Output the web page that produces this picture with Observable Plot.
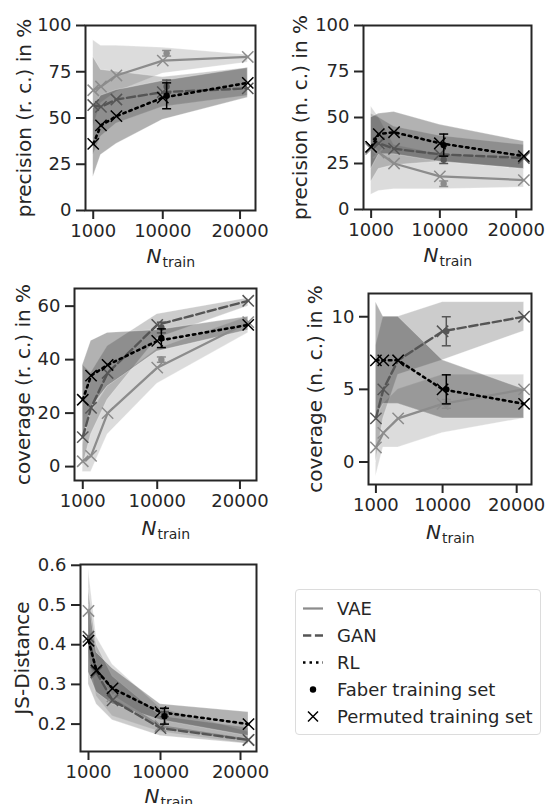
<!DOCTYPE html>
<html><head><meta charset="utf-8">
<script src="https://cdn.jsdelivr.net/npm/d3@7"></script>
<script src="https://cdn.jsdelivr.net/npm/@observablehq/plot@0.6"></script>
<style>
body{margin:0;background:#fff;}
#wrap{position:relative;width:547px;height:804px;overflow:hidden;font-family:"DejaVu Sans";color:#262626;}
#wrap svg.plotsvg{position:absolute;left:0;top:0;}
#legend{position:absolute;left:295px;top:589px;width:244px;height:144px;border:1px solid #dcdcdc;border-radius:4px;background:#fff;font-size:18px;}
.lrow{position:absolute;left:0;height:27px;width:244px;}
.lrow svg{position:absolute;left:0;top:0;}
.lrow span{position:absolute;left:41px;top:3px;line-height:21px;white-space:nowrap;}
</style></head><body><div id="wrap"></div><script>
// ---------- data ----------
const X_TRAIN = [1000, 2000, 4000, 10000, 21000];
const X_FABER = 10500;
const MODELS = ["VAE", "GAN", "RL"];
const COLORS = ["#8c8c8c", "#555555", "#000000"];
const DASHES = [null, "8.3,3.6", "2.5,4"];
const X_TICKS = [1000, 10000, 20000];

// precision (r. c.) in %   rows: VAE, GAN, RL
const precRC_mean = [[65, 67, 73, 81, 83], [57, 56, 60, 64, 66], [36, 46, 51, 61, 69]];
const precRC_lo   = [[45, 58, 64, 74, 80], [30, 40, 47, 56, 62], [18, 30, 36, 49, 61]];
const precRC_hi   = [[92, 89, 89, 88, 84], [83, 76, 75, 72, 77], [55, 62, 65, 70, 77]];
const precRC_faber = [[85, 1.5], [67, 3.5], [62, 7]];
const precRC_ticks = [0, 25, 50, 75, 100];

// precision (n. c.) in %
const precNC_mean = [[33, 31, 25, 18, 16], [34, 36, 33, 30, 28], [34, 41, 42, 36, 29]];
const precNC_lo   = [[8, 10, 11, 11, 12], [15, 22, 24, 26, 22], [22, 30, 30, 26, 22]];
const precNC_hi   = [[56, 50, 35, 30, 27], [52, 50, 45, 40, 35], [50, 52, 53, 46, 37]];
const precNC_faber = [[14, 1.5], [27, 2], [35, 6]];
const precNC_ticks = [0, 25, 50, 75, 100];

// coverage (r. c.) in %
const covRC_mean = [[2, 4, 20, 37, 54], [11, 22, 35, 53, 62], [25, 34, 38, 47, 53]];
const covRC_lo   = [[-2, -2, 12, 31, 50], [0, 12, 25, 48, 60], [10, 22, 30, 43, 51]];
const covRC_hi   = [[8, 20, 30, 44, 56], [38, 35, 45, 57, 63], [38, 47, 50, 51, 56]];
const covRC_faber = [[40, 1], [52, 2], [48, 3.5]];
const covRC_ticks = [0, 20, 40, 60];

// coverage (n. c.) in %
const covNC_mean = [[1, 2, 3, 4, 5], [3, 5, 7, 9, 10], [7, 7, 7, 5, 4]];
const covNC_lo   = [[-1, 1, 1, 2, 3], [0, 3, 6, 7, 9], [3, 4, 4, 3, 3]];
const covNC_hi   = [[3, 4, 5, 6, 6], [8, 10, 10, 11, 11], [11, 10, 10, 7, 5]];
const covNC_faber = [[4, 0.3], [9, 1], [5, 1]];
const covNC_ticks = [0, 5, 10];

// JS-Distance
const js_mean = [[0.485, 0.33, 0.27, 0.195, 0.16], [0.42, 0.33, 0.26, 0.19, 0.16], [0.41, 0.335, 0.29, 0.23, 0.20]];
const js_lo   = [[0.38, 0.27, 0.22, 0.18, 0.15], [0.30, 0.25, 0.21, 0.17, 0.15], [0.33, 0.28, 0.25, 0.21, 0.17]];
const js_hi   = [[0.59, 0.42, 0.35, 0.24, 0.18], [0.54, 0.40, 0.32, 0.22, 0.19], [0.50, 0.38, 0.34, 0.25, 0.23]];
const js_faber = [[0.23, 0.005], [0.225, 0.006], [0.22, 0.02]];
const js_ticks = [0.2, 0.3, 0.4, 0.5, 0.6];

// ---------- drawing ----------
const W = 547, H = 804, INK = "#262626";
const capSymbol = {draw(ctx) { ctx.moveTo(-4.5, 0); ctx.lineTo(4.5, 0); }};
const LINE_W = [2.25, 2.4, 2.6];

function makePanel(c) {
  const [L, T, R, B] = c.frame;
  const marks = [];
  MODELS.forEach((m, i) => {
    const rows = X_TRAIN.map((x, j) => ({x, lo: c.lo[i][j], hi: c.hi[i][j]}));
    marks.push(Plot.areaY(rows, {x: "x", y1: "lo", y2: "hi", fill: COLORS[i], fillOpacity: 0.3, stroke: "#ffffff", strokeOpacity: 0.35, strokeWidth: 0.8}));
  });
  MODELS.forEach((m, i) => {
    const rows = X_TRAIN.map((x, j) => ({x, y: c.mean[i][j]}));
    const opts = {x: "x", y: "y", stroke: COLORS[i], strokeWidth: LINE_W[i]};
    if (DASHES[i]) opts.strokeDasharray = DASHES[i];
    marks.push(Plot.line(rows, opts));
    marks.push(Plot.dot(rows, {x: "x", y: "y", symbol: "times", r: 5.2, stroke: COLORS[i], strokeWidth: 1.5}));
  });
  MODELS.forEach((m, i) => {
    const [mu, sd] = c.faber[i];
    const f = [{x: X_FABER, y: mu, y1: mu - sd, y2: mu + sd}];
    marks.push(Plot.ruleX(f, {x: "x", y1: "y1", y2: "y2", stroke: COLORS[i], strokeWidth: 1.5}));
    marks.push(Plot.dot(f, {x: "x", y: "y1", symbol: capSymbol, stroke: COLORS[i], strokeWidth: 1.5, fill: "none"}));
    marks.push(Plot.dot(f, {x: "x", y: "y2", symbol: capSymbol, stroke: COLORS[i], strokeWidth: 1.5, fill: "none"}));
    marks.push(Plot.dot(f, {x: "x", y: "y", r: 3.2, fill: COLORS[i], stroke: "none"}));
  });
  marks.push(Plot.frame({stroke: INK, strokeWidth: 2}));
  marks.push(Plot.axisX({ticks: X_TICKS, tickFormat: d => String(d), tickSize: 9, tickPadding: 5, fontSize: 18, strokeWidth: 2, stroke: INK, fill: INK, label: null}));
  marks.push(Plot.axisY({ticks: c.yticks, tickFormat: c.yfmt, tickSize: 9, tickPadding: 5, fontSize: 18, strokeWidth: 2, stroke: INK, fill: INK, label: null}));
  marks.push(Plot.text([c.ylabel], {frameAnchor: "left", text: d => d, rotate: -90, dx: c.ylabelDx, fontSize: 20, fill: INK, lineAnchor: "middle", textAnchor: "middle"}));
  marks.push(Plot.text(["N"], {frameAnchor: "bottom", text: d => d, fontStyle: "italic", fontSize: 20, fill: INK, textAnchor: "end", lineAnchor: "top", dx: -9, dy: c.nDy}));
  marks.push(Plot.text(["train"], {frameAnchor: "bottom", text: d => d, fontSize: 14, fill: INK, textAnchor: "start", lineAnchor: "top", dx: -8, dy: c.nDy + 8.5}));
  const svg = Plot.plot({
    width: W, height: H,
    marginLeft: L, marginTop: T, marginRight: W - R, marginBottom: H - B,
    style: {background: "transparent", fontFamily: "DejaVu Sans", color: INK, overflow: "visible"},
    x: {domain: [0, 22000]},
    y: {domain: c.ydomain},
    marks
  });
  svg.classList.add("plotsvg");
  return svg;
}

const wrap = document.getElementById("wrap");
const fmtInt = d => String(d);
wrap.appendChild(makePanel({frame: [85, 25, 255, 210], mean: precRC_mean, lo: precRC_lo, hi: precRC_hi, faber: precRC_faber,
  ydomain: [0, 100], yticks: precRC_ticks, yfmt: fmtInt, ylabel: "precision (r. c.) in %", ylabelDx: -61, nDy: 38}));
wrap.appendChild(makePanel({frame: [363, 25, 531, 209], mean: precNC_mean, lo: precNC_lo, hi: precNC_hi, faber: precNC_faber,
  ydomain: [0, 100], yticks: precNC_ticks, yfmt: fmtInt, ylabel: "precision (n. c.) in %", ylabelDx: -63, nDy: 38}));
wrap.appendChild(makePanel({frame: [74, 288, 256, 480], mean: covRC_mean, lo: covRC_lo, hi: covRC_hi, faber: covRC_faber,
  ydomain: [-5.2, 66.6], yticks: covRC_ticks, yfmt: fmtInt, ylabel: "coverage (r. c.) in %", ylabelDx: -51, nDy: 40}));
wrap.appendChild(makePanel({frame: [368, 293, 531, 484], mean: covNC_mean, lo: covNC_lo, hi: covNC_hi, faber: covNC_faber,
  ydomain: [-1.55, 11.6], yticks: covNC_ticks, yfmt: fmtInt, ylabel: "coverage (n. c.) in %", ylabelDx: -53, nDy: 40}));
wrap.appendChild(makePanel({frame: [80, 564, 256, 751], mean: js_mean, lo: js_lo, hi: js_hi, faber: js_faber,
  ydomain: [0.131, 0.602], yticks: js_ticks, yfmt: d3.format(".1f"), ylabel: "JS-Distance", ylabelDx: -58, nDy: 37}));

// ---------- legend ----------
const legendItems = [
  {label: "VAE", kind: "line", color: COLORS[0], dash: null, w: LINE_W[0]},
  {label: "GAN", kind: "line", color: COLORS[1], dash: DASHES[1], w: LINE_W[1]},
  {label: "RL", kind: "line", color: COLORS[2], dash: DASHES[2], w: LINE_W[2]},
  {label: "Faber training set", kind: "dot"},
  {label: "Permuted training set", kind: "times"}
];
const legend = document.createElement("div");
legend.id = "legend";
legendItems.forEach((it, k) => {
  const row = document.createElement("div");
  row.className = "lrow";
  row.style.top = (5 + 27 * k) + "px";
  let g;
  if (it.kind === "line") g = `<line x1="7" x2="27" y1="13.5" y2="13.5" stroke="${it.color}" stroke-width="${it.w}"${it.dash ? ` stroke-dasharray="${it.dash}"` : ""}/>`;
  else if (it.kind === "dot") g = `<circle cx="17" cy="13.5" r="3.2" fill="#000"/>`;
  else g = `<path d="M12,8.5L22,18.5M22,8.5L12,18.5" stroke="#000" stroke-width="1.5"/>`;
  row.innerHTML = `<svg width="40" height="27">${g}</svg><span>${it.label}</span>`;
  legend.appendChild(row);
});
wrap.appendChild(legend);
</script></body></html>
